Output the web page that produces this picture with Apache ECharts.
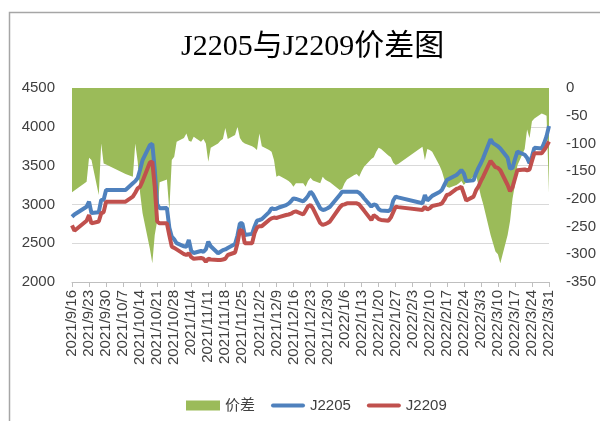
<!DOCTYPE html>
<html>
<head>
<meta charset="utf-8">
<script src="https://cdn.jsdelivr.net/npm/echarts@6/dist/echarts.min.js"></script>
<style>
html,body{margin:0;padding:0;background:#fff;}
#c{width:600px;height:421px;}
</style>
</head>
<body>
<div id="c"></div>
<script>
const dates = [
'2021-09-16','2021-09-17','2021-09-22','2021-09-23','2021-09-24','2021-09-27','2021-09-28','2021-09-29','2021-09-30',
'2021-10-08','2021-10-11','2021-10-12','2021-10-13','2021-10-14','2021-10-15','2021-10-18','2021-10-19','2021-10-20','2021-10-21','2021-10-22',
'2021-10-25','2021-10-26','2021-10-27','2021-10-28','2021-10-29',
'2021-11-01','2021-11-02','2021-11-03','2021-11-04','2021-11-05','2021-11-08','2021-11-09','2021-11-10','2021-11-11','2021-11-12',
'2021-11-15','2021-11-16','2021-11-17','2021-11-18','2021-11-19','2021-11-22','2021-11-23','2021-11-24','2021-11-25','2021-11-26',
'2021-11-29','2021-11-30','2021-12-01','2021-12-02','2021-12-03','2021-12-06','2021-12-07','2021-12-08','2021-12-09','2021-12-10',
'2021-12-13','2021-12-14','2021-12-15','2021-12-16','2021-12-17','2021-12-20','2021-12-21','2021-12-22','2021-12-23','2021-12-24',
'2021-12-27','2021-12-28','2021-12-29','2021-12-30','2021-12-31',
'2022-01-04','2022-01-05','2022-01-06','2022-01-07','2022-01-10','2022-01-11','2022-01-12','2022-01-13','2022-01-14',
'2022-01-17','2022-01-18','2022-01-19','2022-01-20','2022-01-21','2022-01-24','2022-01-25','2022-01-26','2022-01-27','2022-01-28',
'2022-02-07','2022-02-08','2022-02-09','2022-02-10','2022-02-11','2022-02-14','2022-02-15','2022-02-16','2022-02-17','2022-02-18',
'2022-02-21','2022-02-22','2022-02-23','2022-02-24','2022-02-25','2022-02-28',
'2022-03-01','2022-03-02','2022-03-03','2022-03-04','2022-03-07','2022-03-08','2022-03-09','2022-03-10','2022-03-11',
'2022-03-14','2022-03-15','2022-03-16','2022-03-17','2022-03-18','2022-03-21','2022-03-22','2022-03-23','2022-03-24','2022-03-25',
'2022-03-28','2022-03-29','2022-03-30','2022-03-31'
];
const j2205 = [
2840,2870,2970,3035,2888,2900,3057,3060,3186,
3186,3272,3300,3340,3450,3572,3765,3780,3450,3000,2950,
2955,2700,2584,2550,2500,
2460,2455,2541,2400,2374,2400,2390,2420,2519,2460,
2370,2390,2410,2420,2438,2490,2600,2756,2756,2606,
2620,2713,2790,2799,2810,2900,2950,2940,2945,2960,
2992,3010,3040,3078,3070,3040,3070,3110,3164,3130,
2950,2928,2935,2950,2970,
3120,3164,3164,3164,3164,3164,3150,3120,3080,
2971,3000,2990,2940,2920,2915,2935,3050,3100,3090,
3014,3121,3050,3080,3110,3160,3186,3250,3314,3330,
3379,3410,3443,3400,3300,3310,
3400,3470,3530,3600,3840,3790,3770,3750,3720,
3600,3460,3470,3580,3680,3640,3600,3530,3620,3730,
3720,3790,3880,4010
];
const j2209 = [
2730,2660,2790,2863,2756,2780,2885,2900,3035,
3035,3100,3150,3207,3230,3300,3540,3550,3230,2780,2756,
2756,2600,2455,2440,2420,
2360,2348,2370,2320,2300,2310,2300,2262,2300,2290,
2284,2284,2290,2300,2348,2380,2500,2670,2660,2498,
2500,2628,2700,2720,2720,2800,2820,2830,2825,2835,
2863,2870,2880,2900,2910,2870,2920,2975,2992,2950,
2760,2735,2745,2760,2780,
2960,2992,3000,3014,3014,3014,3000,2960,2920,
2799,2860,2840,2810,2800,2790,2830,2900,2971,2965,
2928,2970,2935,2950,2980,3000,3014,3060,3121,3130,
3200,3210,3228,3140,3050,3100,
3180,3230,3300,3360,3560,3520,3480,3470,3440,
3250,3170,3220,3330,3440,3450,3440,3450,3560,3660,
3660,3700,3750,3810
];
const spread = [
-188,-185,-169,-126,-130,-193,-100,-136,-138,
-155,-160,-100,-133,-190,-226,-290,-316,-265,-240,-170,
-165,-220,-130,-124,-97,
-90,-82,-95,-97,-88,-97,-92,-100,-133,-108,
-100,-95,-92,-72,-92,-85,-70,-90,-97,-100,
-105,-108,-112,-82,-105,-112,-115,-130,-160,-158,
-165,-168,-172,-178,-172,-172,-178,-168,-162,-167,
-172,-160,-165,-168,-170,
-184,-182,-172,-165,-157,-155,-160,-150,-142,
-128,-125,-115,-108,-110,-122,-125,-135,-139,-137,
-106,-130,-110,-112,-115,-140,-150,-165,-178,-180,
-175,-172,-168,-175,-170,-160,
-157,-175,-195,-210,-265,-280,-295,-300,-316,
-265,-240,-200,-175,-140,-110,-75,-90,-60,-55,
-46,-48,-50,-190
];
const seriesNames = ['价差','J2205','J2209'];
const titleText = 'J2205与J2209价差图';
const xStart = '2021-09-16', xEnd = '2022-03-31';

const DAY = 86400000;
const ts = d => Date.parse(d);
const pairs = arr => dates.map((d,i)=>[ts(d), arr[i]]);
const fmt = v => { const d = new Date(v); return d.getUTCFullYear()+'/'+(d.getUTCMonth()+1)+'/'+d.getUTCDate(); };
const plain = v => String(v);
const lineIcon = 'path://M2,0 L32,0 A2,2 0 0 1 32,4 L2,4 A2,2 0 0 1 2,0 Z';

const labelFont = {fontFamily:'Liberation Sans', fontSize:15, color:'#404040'};

const chart = echarts.init(document.getElementById('c'), null, {renderer:'canvas'});
chart.setOption({
  backgroundColor:'#fff',
  animation:false,
  graphic:[{type:'rect', shape:{x:9.5,y:12.5,width:620,height:440}, style:{fill:'none', stroke:'#a6a6a6', lineWidth:1.5}, silent:true, z:-1}],
  title:{text:titleText, left:176, top:27,
    textStyle:{fontFamily:'Liberation Serif, Noto Sans CJK SC', fontSize:30, fontWeight:'normal', color:'#000'}},
  legend:{
    left:181, top:393, itemWidth:34, itemHeight:10, itemGap:16, symbolKeepAspect:true,
    textStyle:{fontFamily:'Liberation Sans, Noto Sans CJK SC', fontSize:15, color:'#404040'},
    data:[{name:seriesNames[0], icon:'rect'}, {name:seriesNames[1], icon:lineIcon}, {name:seriesNames[2], icon:lineIcon}]
  },
  grid:{left:72, right:51, top:88, bottom:139, containLabel:false},
  xAxis:{
    type:'value', min:ts(xStart), max:ts(xEnd), interval:7*DAY,
    axisLine:{show:true, onZero:false, lineStyle:{color:'#bfbfbf', width:1}},
    axisTick:{show:true, length:5, lineStyle:{color:'#bfbfbf'}},
    splitLine:{show:false},
    axisLabel:Object.assign({rotate:90, margin:8, formatter:fmt, showMinLabel:true, showMaxLabel:true}, labelFont)
  },
  yAxis:[
    {type:'value', min:2000, max:4500, interval:500,
     axisLine:{show:false}, axisTick:{show:false},
     splitLine:{show:true, lineStyle:{color:'#d9d9d9', width:1}},
     axisLabel:Object.assign({margin:17, formatter:plain}, labelFont)},
    {type:'value', min:-350, max:0, interval:50, position:'right',
     axisLine:{show:false}, axisTick:{show:false},
     splitLine:{show:false},
     axisLabel:Object.assign({margin:17, formatter:plain}, labelFont)}
  ],
  series:[
    {name:seriesNames[0], type:'line', yAxisIndex:1, data:pairs(spread),
     symbol:'none', lineStyle:{width:0, color:'#9bbb59'}, itemStyle:{color:'#9bbb59'},
     areaStyle:{color:'#9bbb59', opacity:1, origin:'end'}, z:1},
    {name:seriesNames[1], type:'line', yAxisIndex:0, data:pairs(j2205),
     symbol:'none', lineStyle:{width:4, color:'#4f81bd'}, itemStyle:{color:'#4f81bd'}, z:3},
    {name:seriesNames[2], type:'line', yAxisIndex:0, data:pairs(j2209),
     symbol:'none', lineStyle:{width:4, color:'#c0504d'}, itemStyle:{color:'#c0504d'}, z:4}
  ]
});
</script>
</body>
</html>
